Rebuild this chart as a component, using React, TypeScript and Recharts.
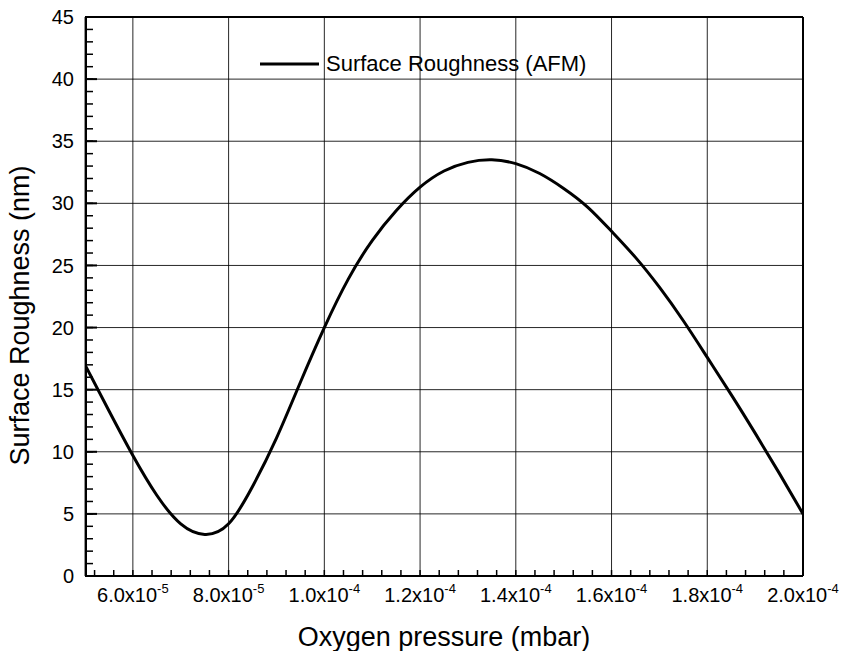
import { LineChart, Line, XAxis, YAxis, CartesianGrid, Legend, Label } from "recharts";

// Oxygen pressure (mbar), read every 0.5e-5
const pressure = [
  5.0e-5, 5.5e-5, 6.0e-5, 6.5e-5, 7.0e-5, 7.5e-5, 8.0e-5, 8.5e-5, 9.0e-5, 9.5e-5, 1.0e-4,
  1.05e-4, 1.1e-4, 1.15e-4, 1.2e-4, 1.25e-4, 1.3e-4, 1.35e-4, 1.4e-4, 1.45e-4, 1.5e-4, 1.55e-4,
  1.6e-4, 1.65e-4, 1.7e-4, 1.75e-4, 1.8e-4, 1.85e-4, 1.9e-4, 1.95e-4, 2.0e-4,
];
// Surface roughness (nm)
const roughness = [
  17.0, 13.3, 9.7, 6.5, 4.2, 3.35, 4.2, 7.2, 11.1, 15.6, 20.0, 23.9, 27.0, 29.4, 31.3, 32.6, 33.3,
  33.5, 33.2, 32.4, 31.2, 29.7, 27.75, 25.65, 23.25, 20.55, 17.6, 14.6, 11.5, 8.3, 5.0,
];

const xTicks = [6e-5, 8e-5, 1e-4, 1.2e-4, 1.4e-4, 1.6e-4, 1.8e-4, 2e-4];
const xTickMantissa = ["6.0", "8.0", "1.0", "1.2", "1.4", "1.6", "1.8", "2.0"];
const xTickExponent = ["-5", "-5", "-4", "-4", "-4", "-4", "-4", "-4"];
const yTicks = [0, 5, 10, 15, 20, 25, 30, 35, 40, 45];

// minor ticks: every 4e-6 on x, every 1 nm on y
const xMinor: number[] = [];
for (let k = 13; k <= 50; k++) xMinor.push(k * 4e-6);
const yMinor: number[] = [];
for (let k = 0; k <= 45; k++) yMinor.push(k);

const data = pressure.map((p, i) => ({ p, r: roughness[i] }));

const FONT = "'Liberation Sans', Arial, Helvetica, sans-serif";
const X_DOMAIN: [number, number] = [5e-5, 2e-4];
const Y_DOMAIN: [number, number] = [0, 45];

function XTick(props: any) {
  const { x, y, payload } = props;
  const i = xTicks.findIndex((t) => Math.abs(t - payload.value) < 1e-9);
  if (i < 0) return <g />;
  return (
    <text x={x} y={y + 26} textAnchor="middle" fontSize={20} fontFamily={FONT} fill="#000">
      {xTickMantissa[i] + "x10"}
      <tspan dy={-9} fontSize={13}>
        {xTickExponent[i]}
      </tspan>
    </text>
  );
}

const noLabel = () => <g />;

function LegendContent() {
  return (
    <svg width={360} height={30} style={{ overflow: "visible" }}>
      <line x1={8} y1={15} x2={67} y2={15} stroke="#000" strokeWidth={3} />
      <text x={74} y={22} fontSize={22} fontFamily={FONT} fill="#000">
        Surface Roughness (AFM)
      </text>
    </svg>
  );
}

export default function App() {
  return (
    <div style={{ position: "absolute", left: 0, top: 0, width: 845, height: 651, background: "#fff" }}>
      <LineChart width={845} height={651} data={data} margin={{ top: 16, right: 41, bottom: 15, left: 25 }}>
        <CartesianGrid stroke="#000" strokeWidth={1} strokeOpacity={0.85} />
        <XAxis
          xAxisId="minor"
          dataKey="p"
          type="number"
          domain={X_DOMAIN}
          ticks={xMinor}
          allowDataOverflow
          height={1}
          mirror
          tickSize={6}
          stroke="#000"
          tickLine={{ stroke: "#000", strokeWidth: 1.5 }}
          tick={noLabel}
          axisLine={{ stroke: "#000", strokeWidth: 2 }}
          interval={0}
        />
        <XAxis
          dataKey="p"
          type="number"
          domain={X_DOMAIN}
          ticks={xTicks}
          allowDataOverflow
          height={60}
          tickLine={false}
          tickSize={0}
          tickMargin={0}
          tick={<XTick />}
          axisLine={false}
          interval={0}
        >
          <Label
            content={(p: any) => {
              const vb = p.viewBox;
              return (
                <text x={vb.x + vb.width / 2} y={vb.y + 70} textAnchor="middle" fontSize={27} fontFamily={FONT} fill="#000">
                  Oxygen pressure (mbar)
                </text>
              );
            }}
          />
        </XAxis>
        <XAxis
          xAxisId="top"
          orientation="top"
          dataKey="p"
          type="number"
          domain={X_DOMAIN}
          allowDataOverflow
          height={1}
          tick={false}
          tickLine={false}
          axisLine={{ stroke: "#000", strokeWidth: 2 }}
        />
        <YAxis
          yAxisId="minor"
          type="number"
          domain={Y_DOMAIN}
          ticks={yMinor}
          allowDataOverflow
          width={1}
          mirror
          tickSize={7}
          stroke="#000"
          tickLine={{ stroke: "#000", strokeWidth: 1.5 }}
          tick={noLabel}
          axisLine={{ stroke: "#000", strokeWidth: 2 }}
          interval={0}
        />
        <YAxis
          yAxisId="major"
          type="number"
          domain={Y_DOMAIN}
          ticks={yTicks}
          allowDataOverflow
          width={1}
          mirror
          tickSize={12}
          stroke="#000"
          tickLine={{ stroke: "#000", strokeWidth: 2 }}
          tick={noLabel}
          axisLine={false}
          interval={0}
        />
        <YAxis
          type="number"
          domain={Y_DOMAIN}
          ticks={yTicks}
          width={60}
          tickLine={false}
          tickSize={0}
          tickMargin={11}
          tick={{ fontSize: 20, fontFamily: FONT, fill: "#000" }}
          axisLine={false}
          interval={0}
        >
          <Label
            content={(p: any) => {
              const vb = p.viewBox;
              const cx = vb.x + 4;
              const cy = vb.y + vb.height / 2 + 19;
              return (
                <text
                  x={cx}
                  y={cy}
                  transform={`rotate(-90 ${cx} ${cy})`}
                  textAnchor="middle"
                  fontSize={27}
                  fontFamily={FONT}
                  fill="#000"
                >
                  Surface Roughness (nm)
                </text>
              );
            }}
          />
        </YAxis>
        <YAxis
          yAxisId="right"
          orientation="right"
          type="number"
          domain={Y_DOMAIN}
          allowDataOverflow
          width={1}
          tick={false}
          tickLine={false}
          axisLine={{ stroke: "#000", strokeWidth: 2 }}
        />
        <Legend
          layout="horizontal"
          verticalAlign="middle"
          align="center"
          content={<LegendContent />}
          wrapperStyle={{ position: "absolute", left: 252, top: 49, width: 360, height: 30 }}
        />
        {/* invisible series so the extra tick / frame axes get a scale */}
        <Line xAxisId="minor" yAxisId="minor" dataKey="r" stroke="none" dot={false} legendType="none" isAnimationActive={false} />
        <Line xAxisId="top" yAxisId="right" dataKey="r" stroke="none" dot={false} legendType="none" isAnimationActive={false} />
        <Line yAxisId="major" dataKey="r" stroke="none" dot={false} legendType="none" isAnimationActive={false} />
        <Line
          dataKey="r"
          type="natural"
          stroke="#000"
          strokeWidth={3}
          dot={false}
          isAnimationActive={false}
        />
      </LineChart>
    </div>
  );
}
